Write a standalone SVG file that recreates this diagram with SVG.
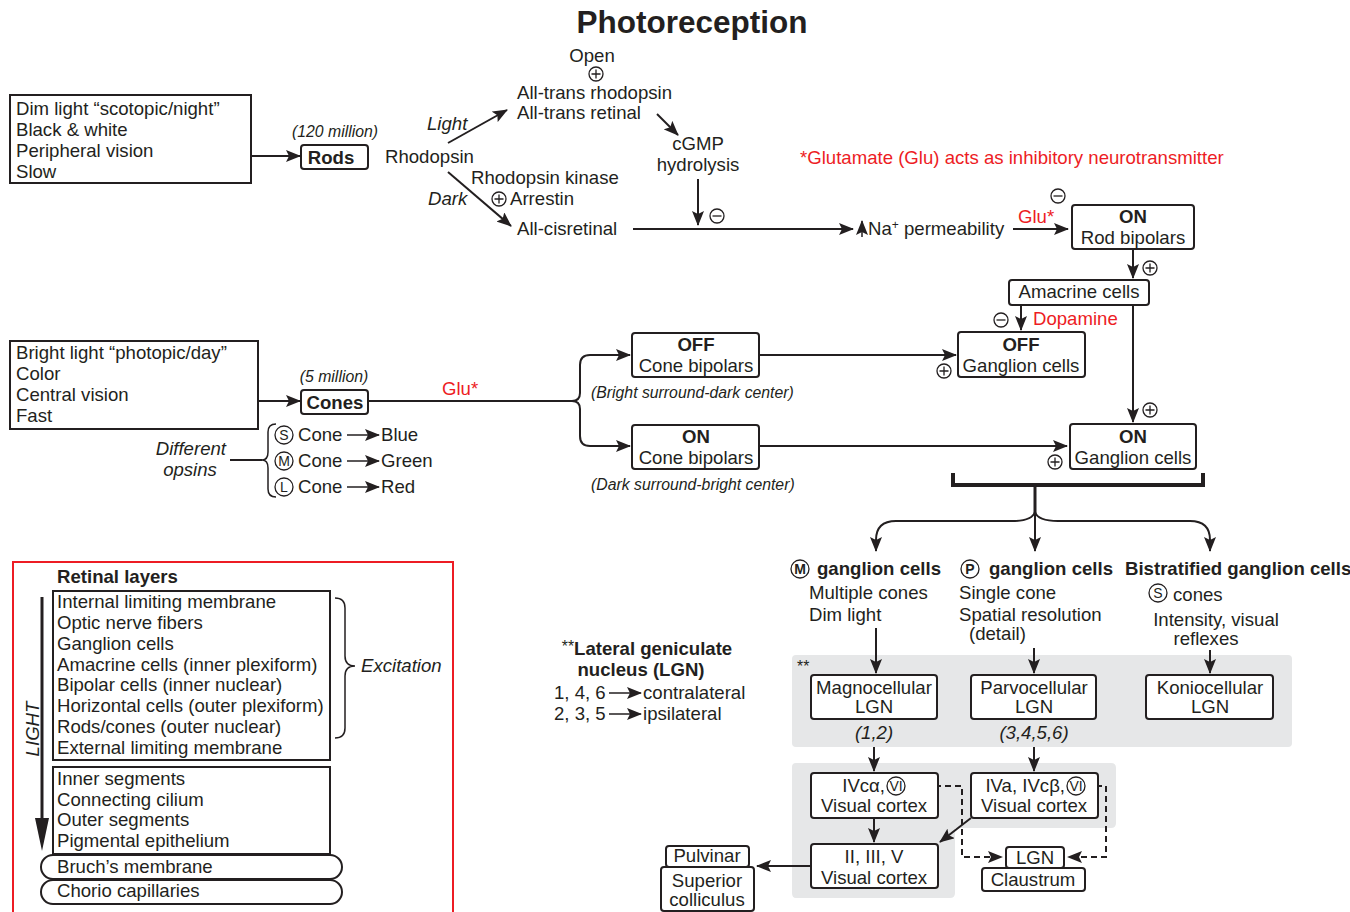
<svg xmlns="http://www.w3.org/2000/svg" width="1350" height="912" viewBox="0 0 1350 912">
<style>
text{font-family:"Liberation Sans",Arial,sans-serif;font-size:18.6px;fill:#231f20}
.b{font-weight:bold}
.i{font-style:italic}
.s{font-size:15.8px}
.m{text-anchor:middle}
.red{fill:#ed1c24}
.box{fill:#fff;stroke:#231f20;stroke-width:2}
.sq{fill:#fff;stroke:#231f20;stroke-width:2}
.ln{fill:none;stroke:#231f20;stroke-width:2}
.ar{fill:none;stroke:#231f20;stroke-width:2;marker-end:url(#ah)}
.da{fill:none;stroke:#231f20;stroke-width:2;stroke-dasharray:6 4;marker-end:url(#ah)}
.panel{fill:#e6e7e8}
.cl{fill:#fff;stroke:#231f20;stroke-width:1.3}
.cx{font-size:14px}
</style>
<defs>
<marker id="ah" markerUnits="userSpaceOnUse" markerWidth="16" markerHeight="12" refX="14" refY="6" orient="auto">
<path d="M0,0 L15,6 L0,12 L3,6 z" fill="#231f20"/>
</marker>
<g id="plus"><circle r="7" fill="#fff" stroke="#231f20" stroke-width="1.3"/><path d="M-4.5,0 H4.5 M0,-4.5 V4.5" stroke="#231f20" stroke-width="1.3"/></g>
<g id="minus"><circle r="7" fill="#fff" stroke="#231f20" stroke-width="1.3"/><path d="M-4.5,0 H4.5" stroke="#231f20" stroke-width="1.3"/></g>
</defs>

<rect width="1350" height="912" fill="#fff"/>
<text x="692" y="33" class="b m" style="font-size:31.5px">Photoreception</text>

<!-- background panels -->
<g id="panels">
<rect class="panel" x="792" y="655" width="500" height="92" rx="4"/>
<path class="panel" d="M796,763 H1111 Q1116,763 1116,768 V823 Q1116,828 1111,828 H955 V893 Q955,898 950,898 H796 Q792,898 792,893 V767 Q792,763 796,763 z"/>
</g>

<!-- connectors -->
<g id="connectors">
<path class="ar" d="M251,156 H300"/>
<path class="ar" d="M448,143 L507,110"/>
<path class="ar" d="M448,172 L511,226"/>
<path class="ar" d="M657,114 L678,135"/>
<path class="ar" d="M698,179 V225"/>
<path class="ar" d="M633,229 H853"/>
<path class="ar" d="M862,237 V221" style="stroke-width:1.5"/>
<path class="ar" d="M1013,229 H1068"/>
<path class="ar" d="M1133,249 V278"/>
<path class="ar" d="M1021,305 V330"/>
<path class="ar" d="M1133,305 V422"/>
<path class="ar" d="M258,401 H300"/>
<path class="ln" d="M368,401 H572 Q580,401 580,393 V365 Q580,355 590,355 H598"/>
<path class="ar" d="M590,355 H630"/>
<path class="ln" d="M572,401 Q580,401 580,409 V436 Q580,446 590,446 H598"/>
<path class="ar" d="M590,446 H630"/>
<path class="ar" d="M759,355 H956"/>
<path class="ar" d="M759,446 H1067"/>
<path class="ln" d="M230,460 H262"/>
<path class="ln" d="M276,424 Q268,424 268,432 V452 Q268,460 262,460 Q268,460 268,468 V489 Q268,497 276,497" style="stroke-width:1.5"/>
<path class="ar" d="M347,435 H379" style="stroke-width:1.5"/>
<path class="ar" d="M347,461 H379" style="stroke-width:1.5"/>
<path class="ar" d="M347,487 H379" style="stroke-width:1.5"/>
<path class="ln" d="M953,473 V485 H1203 V473" style="stroke-width:4"/>
<path class="ln" d="M1035,485 V514" style="stroke-width:3"/>
<path class="ar" d="M1035,512 Q1032,521 1012,521 H896 Q876,521 876,540 V551"/>
<path class="ar" d="M1035,512 V551"/>
<path class="ar" d="M1035,512 Q1038,521 1058,521 H1190 Q1210,521 1210,540 V551"/>
<path class="ar" d="M876,628 V673"/>
<path class="ar" d="M1034,648 V673"/>
<path class="ar" d="M1210,650 V673"/>
<path class="ar" d="M874,747 V771"/>
<path class="ar" d="M1034,747 V771"/>
<path class="ar" d="M874,818 V842"/>
<path class="ar" d="M971,818 L940,842"/>
<path class="ar" d="M811,866 H757"/>
<path class="da" d="M905,786 H962 V857 H1002"/>
<path class="da" d="M1086,786 H1106 V857 H1068"/>
<path class="ar" d="M609,693 H641" style="stroke-width:1.5"/>
<path class="ar" d="M609,714 H641" style="stroke-width:1.5"/>
</g>

<!-- signs -->
<g id="signs">
<use href="#plus" x="596" y="74"/>
<use href="#minus" x="717" y="216"/>
<use href="#plus" x="499" y="199"/>
<use href="#minus" x="1058" y="196"/>
<use href="#plus" x="1150" y="268"/>
<use href="#minus" x="1001" y="320"/>
<use href="#plus" x="1150" y="410"/>
<use href="#plus" x="944" y="371"/>
<use href="#plus" x="1055" y="462"/>
</g>

<g id="dim-light">
<rect class="sq" x="10" y="95" width="241" height="88"/>
<text x="16" y="115">Dim light “scotopic/night”</text>
<text x="16" y="136">Black &amp; white</text>
<text x="16" y="157">Peripheral vision</text>
<text x="16" y="178">Slow</text>
</g>

<g id="rods">
<text x="335" y="137" class="i m s">(120 million)</text>
<rect class="box" x="301" y="145" width="67" height="24" rx="3"/>
<text x="331" y="164" class="b m">Rods</text>
</g>

<g id="rhodopsin">
<text x="385" y="163">Rhodopsin</text>
<text x="427" y="130" class="i">Light</text>
<text x="428" y="205" class="i">Dark</text>
<text x="592" y="62" class="m">Open</text>
<text x="517" y="99">All-trans rhodopsin</text>
<text x="517" y="119">All-trans retinal</text>
<text x="698" y="150" class="m">cGMP</text>
<text x="698" y="171" class="m">hydrolysis</text>
<text x="471" y="184">Rhodopsin kinase</text>
<text x="510" y="205">Arrestin</text>
<text x="517" y="235">All-cisretinal</text>
<text x="868" y="235">Na<tspan dy="-6" style="font-size:12px">+</tspan><tspan dy="6"> permeability</tspan></text>
<text x="1018" y="223" class="red">Glu*</text>
</g>

<text x="800" y="164" class="red">*Glutamate (Glu) acts as inhibitory neurotransmitter</text>

<g id="rod-bipolars">
<rect class="box" x="1072" y="205" width="122" height="44" rx="3"/>
<text x="1133" y="223" class="b m">ON</text>
<text x="1133" y="244" class="m">Rod bipolars</text>
</g>

<g id="amacrine">
<rect class="box" x="1009" y="280" width="140" height="25" rx="3"/>
<text x="1079" y="298" class="m">Amacrine cells</text>
<text x="1033" y="325" class="red">Dopamine</text>
</g>

<g id="off-ganglion">
<rect class="box" x="958" y="332" width="127" height="45" rx="3"/>
<text x="1021" y="351" class="b m">OFF</text>
<text x="1021" y="372" class="m">Ganglion cells</text>
</g>

<g id="on-ganglion">
<rect class="box" x="1070" y="424" width="126" height="45" rx="3"/>
<text x="1133" y="443" class="b m">ON</text>
<text x="1133" y="464" class="m">Ganglion cells</text>
</g>

<g id="bright-light">
<rect class="sq" x="10" y="341" width="248" height="88"/>
<text x="16" y="359">Bright light “photopic/day”</text>
<text x="16" y="380">Color</text>
<text x="16" y="401">Central vision</text>
<text x="16" y="422">Fast</text>
</g>

<g id="cones">
<text x="334" y="382" class="i m s">(5 million)</text>
<rect class="box" x="301" y="390" width="67" height="24" rx="3"/>
<text x="335" y="409" class="b m">Cones</text>
<text x="442" y="395" class="red">Glu*</text>
</g>

<g id="opsins">
<text x="226" y="455" class="i" text-anchor="end">Different</text>
<text x="190" y="476" class="i m">opsins</text>
<circle class="cl" cx="284" cy="435" r="9"/><text x="284" y="440" class="m cx">S</text>
<circle class="cl" cx="284" cy="461" r="9"/><text x="284" y="466" class="m cx">M</text>
<circle class="cl" cx="284" cy="487" r="9"/><text x="284" y="492" class="m cx">L</text>
<text x="298" y="441">Cone</text>
<text x="298" y="467">Cone</text>
<text x="298" y="493">Cone</text>
<text x="381" y="441">Blue</text>
<text x="381" y="467">Green</text>
<text x="381" y="493">Red</text>
</g>

<g id="off-cone-bipolars">
<rect class="box" x="632" y="333" width="127" height="44" rx="3"/>
<text x="696" y="351" class="b m">OFF</text>
<text x="696" y="372" class="m">Cone bipolars</text>
<text x="591" y="398" class="i s">(Bright surround-dark center)</text>
</g>

<g id="on-cone-bipolars">
<rect class="box" x="632" y="425" width="127" height="44" rx="3"/>
<text x="696" y="443" class="b m">ON</text>
<text x="696" y="464" class="m">Cone bipolars</text>
<text x="591" y="490" class="i s">(Dark surround-bright center)</text>
</g>

<g id="m-ganglion">
<circle class="cl" cx="800" cy="569" r="9"/><text x="800" y="574" class="b m cx">M</text>
<text x="817" y="575" class="b">ganglion cells</text>
<text x="809" y="599">Multiple cones</text>
<text x="809" y="621">Dim light</text>
</g>

<g id="p-ganglion">
<circle class="cl" cx="970" cy="569" r="9"/><text x="970" y="574" class="b m cx">P</text>
<text x="989" y="575" class="b">ganglion cells</text>
<text x="959" y="599">Single cone</text>
<text x="959" y="621">Spatial resolution</text>
<text x="969" y="640">(detail)</text>
</g>

<g id="bistratified">
<text x="1125" y="575" class="b">Bistratified ganglion cells</text>
<circle class="cl" cx="1158" cy="593" r="9"/><text x="1158" y="598" class="m cx">S</text>
<text x="1173" y="601">cones</text>
<text x="1216" y="626" class="m">Intensity, visual</text>
<text x="1206" y="645" class="m">reflexes</text>
</g>

<text x="797" y="672" class="s">**</text>

<g id="magno">
<rect class="box" x="811" y="675" width="126" height="44" rx="3"/>
<text x="874" y="694" class="m">Magnocellular</text>
<text x="874" y="713" class="m">LGN</text>
<text x="874" y="739" class="i m">(1,2)</text>
</g>

<g id="parvo">
<rect class="box" x="971" y="675" width="125" height="44" rx="3"/>
<text x="1034" y="694" class="m">Parvocellular</text>
<text x="1034" y="713" class="m">LGN</text>
<text x="1034" y="739" class="i m">(3,4,5,6)</text>
</g>

<g id="konio">
<rect class="box" x="1146" y="675" width="127" height="44" rx="3"/>
<text x="1210" y="694" class="m">Koniocellular</text>
<text x="1210" y="713" class="m">LGN</text>
</g>

<g id="ivc-alpha">
<rect class="box" x="811" y="773" width="127" height="45" rx="3"/>
<text x="885" y="792" text-anchor="end">IVcα,</text>
<circle class="cl" cx="896" cy="786" r="9"/><text x="896" y="791" class="m cx">VI</text>
<text x="874" y="812" class="m">Visual cortex</text>
</g>

<g id="iva-ivc-beta">
<rect class="box" x="971" y="773" width="127" height="45" rx="3"/>
<text x="1065" y="792" text-anchor="end">IVa, IVcβ,</text>
<circle class="cl" cx="1076" cy="786" r="9"/><text x="1076" y="791" class="m cx">VI</text>
<text x="1034" y="812" class="m">Visual cortex</text>
</g>

<g id="layers-2-3-5">
<rect class="box" x="811" y="844" width="127" height="44" rx="3"/>
<text x="874" y="863" class="m">II, III, V</text>
<text x="874" y="884" class="m">Visual cortex</text>
</g>

<g id="pulvinar">
<rect class="box" x="666" y="846" width="83" height="21" rx="3"/>
<text x="707" y="862" class="m">Pulvinar</text>
<rect class="box" x="661" y="867" width="93" height="44" rx="3"/>
<text x="707" y="887" class="m">Superior</text>
<text x="707" y="906" class="m">colliculus</text>
</g>

<g id="lgn-claustrum">
<rect class="box" x="1006" y="847" width="58" height="21" rx="3"/>
<text x="1035" y="864" class="m">LGN</text>
<rect class="box" x="982" y="868" width="103" height="23" rx="3"/>
<text x="1033" y="886" class="m">Claustrum</text>
</g>

<g id="lgn-legend">
<text x="647" y="655" class="b m"><tspan class="s" style="font-weight:normal" dy="-3">**</tspan><tspan dy="3">Lateral geniculate</tspan></text>
<text x="641" y="676" class="b m">nucleus (LGN)</text>
<text x="554" y="699">1, 4, 6</text>
<text x="643" y="699">contralateral</text>
<text x="554" y="720">2, 3, 5</text>
<text x="643" y="720">ipsilateral</text>
</g>

<g id="retinal-layers">
<rect x="13" y="562" width="440" height="360" fill="none" stroke="#ed1c24" stroke-width="2"/>
<text x="57" y="583" class="b">Retinal layers</text>
<rect class="sq" x="53" y="591" width="277" height="169"/>
<text x="57" y="608">Internal limiting membrane</text>
<text x="57" y="629">Optic nerve fibers</text>
<text x="57" y="650">Ganglion cells</text>
<text x="57" y="671">Amacrine cells (inner plexiform)</text>
<text x="57" y="691">Bipolar cells (inner nuclear)</text>
<text x="57" y="712">Horizontal cells (outer plexiform)</text>
<text x="57" y="733">Rods/cones (outer nuclear)</text>
<text x="57" y="754">External limiting membrane</text>
<rect class="sq" x="53" y="767" width="277" height="87"/>
<text x="57" y="785">Inner segments</text>
<text x="57" y="806">Connecting cilium</text>
<text x="57" y="826">Outer segments</text>
<text x="57" y="847">Pigmental epithelium</text>
<rect class="box" x="41" y="855" width="301" height="24" rx="12"/>
<text x="57" y="873">Bruch’s membrane</text>
<rect class="box" x="41" y="880" width="301" height="24" rx="12"/>
<text x="57" y="897">Chorio capillaries</text>
<path d="M42,597 V822" stroke="#231f20" stroke-width="3"/>
<path d="M35,818 H49 L42,851 z" fill="#231f20"/>
<text transform="translate(39,729) rotate(-90)" class="i m">LIGHT</text>
<path class="ln" d="M335,598 Q345,598 345,608 V656 Q345,666 355,666 Q345,666 345,676 V728 Q345,738 335,738" style="stroke-width:1.5"/>
<text x="361" y="672" class="i">Excitation</text>
</g>
</svg>
